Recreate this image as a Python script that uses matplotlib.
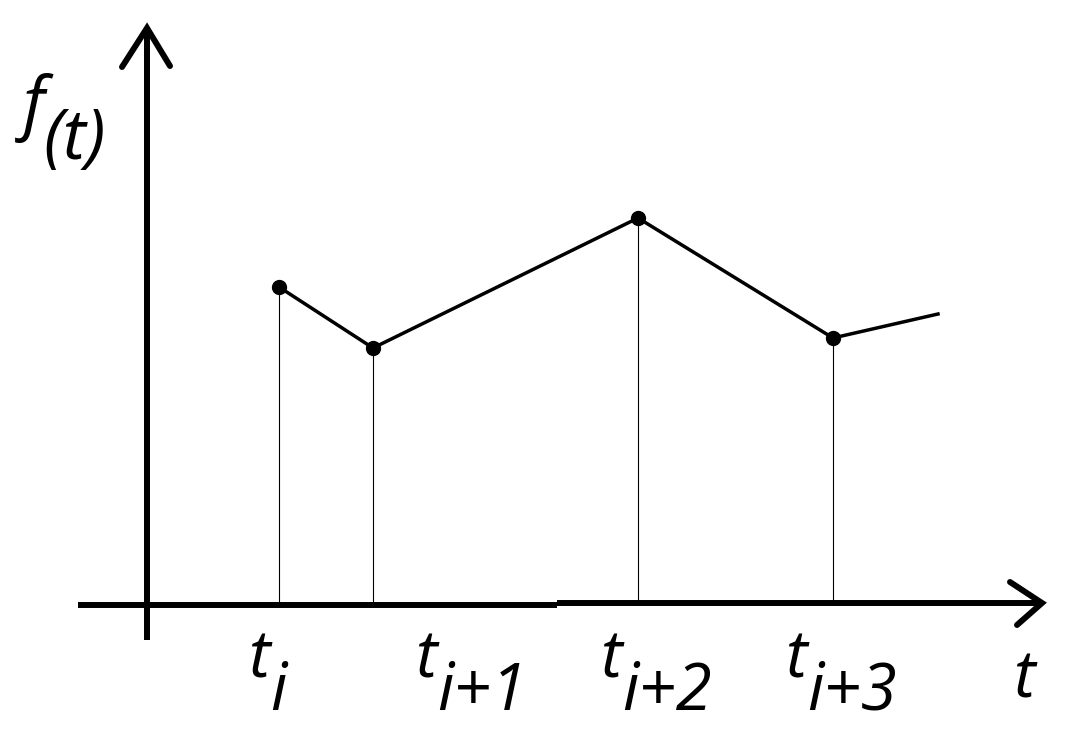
import matplotlib
matplotlib.use('Agg')
from matplotlib import pyplot as plt

# Points of the piecewise-linear function (origin = where the axes cross)
t_nodes = [132, 226, 491, 686]
f_nodes = [317, 256, 386, 266]
t_tail, f_tail = 791, 290

# Labels under the t axis: index text and left edge of each "t"
sub_labels = ['i', 'i+1', 'i+2', 'i+3']
label_x = [101, 268, 453, 638]

fig = plt.figure(figsize=(10.7, 7.53), dpi=100)
ax = fig.add_axes([0, 0, 1, 1])
ax.set_xlim(-147, 923)
ax.set_ylim(-149, 604)
ax.axis('off')

black = 'black'
font = dict(family=['Open Sans', 'DejaVu Sans'], style='italic', color=black)

# axes (the t axis was drawn in two strokes, slightly offset)
ax.plot([0, 0], [-36, 573], color=black, lw=4.3, solid_capstyle='butt')
ax.plot([-69, 410], [-0.8, -0.8], color=black, lw=4.3, solid_capstyle='butt')
ax.plot([410, 893], [0.7, 0.7], color=black, lw=4.3, solid_capstyle='butt')
# arrow heads
ax.plot([-25, 0, 23], [537, 576, 538], color=black, lw=4.3,
        solid_capstyle='round', solid_joinstyle='miter')
ax.plot([863, 895, 870], [22, 1, -21], color=black, lw=4.3,
        solid_capstyle='round', solid_joinstyle='miter')

# drop lines
ax.vlines(t_nodes, 0, f_nodes, color=black, lw=0.8)

# function
ax.plot(t_nodes + [t_tail], f_nodes + [f_tail], color=black, lw=2.5)
ax.plot(t_nodes, f_nodes, 'o', color=black, ms=10)

# labels
for tx, s in zip(label_x, sub_labels):
    ax.text(tx, -74, 't', fontsize=47, **font)
    ax.text(tx + 22, -106, s, fontsize=47, **font)
ax.text(866, -93, 't', fontsize=47, **font)

ax.text(-124, 478, 'f', fontsize=50, **font)
ax.text(-104, 445, '(t)', fontsize=50, **font)

plt.savefig('out.png')
